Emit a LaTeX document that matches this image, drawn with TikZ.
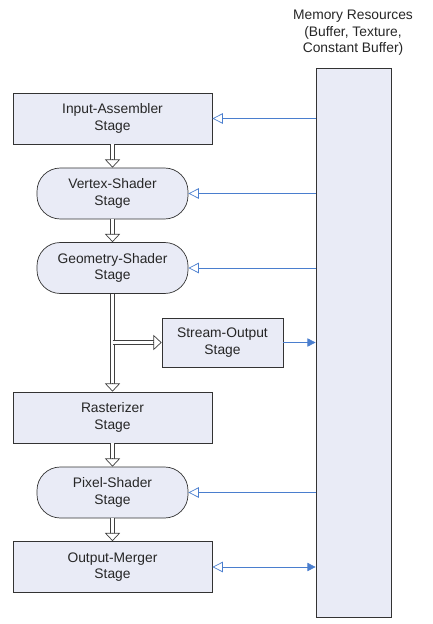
\documentclass[tikz,border=0pt]{standalone}
\usepackage{fontspec}
\setmainfont{Liberation Sans}
\usetikzlibrary{arrows.meta}
\definecolor{boxfill}{RGB}{233,235,246}
\definecolor{memblue}{RGB}{74,126,206}
\tikzset{
  stagebox/.style={draw=black!80, line width=0.6pt, fill=boxfill, align=center,
    text=black!85, minimum width=5.97cm, minimum height=1.53cm, inner sep=0pt},
  shaderbox/.style={stagebox, minimum width=4.53cm, rounded corners=0.7cm},
  flowshaft/.style={draw=black!75, line width=0.7pt, double=white, double distance=3.2pt, shorten >=6pt},
  flowtip/.style={draw=black!75, line width=0.6pt, -{Triangle[open, length=7pt, width=13pt, fill=white]}},
  memlink/.style={draw=memblue, line width=0.6pt},
  memopen/.style={memlink, -{Triangle[open, length=9pt, width=9pt]}},
  memfull/.style={memlink, -{Triangle[length=7pt, width=7pt]}},
}
\begin{document}
\begin{tikzpicture}[x=0.03cm, y=-0.03cm, font=\fontsize{11.8}{14}\selectfont]
		%%%%% START %%%%%
		\useasboundingbox (0, 0) rectangle (433, 624);
		
		\node[stagebox, minimum width=2.25cm, minimum height=16.47cm] (mem) at (353.5, 342.5) {};
		\node[align=center, text=black!85] (memlabel) at (353, 33) {Memory Resources\\(Buffer, Texture,\\Constant Buffer)};
		
		\node[stagebox] (ia) at (112.5, 118.5) {Input-Assembler\\Stage};
		\node[shaderbox] (vs) at (112.5, 193.5) {Vertex-Shader\\Stage};
		\node[shaderbox] (gs) at (112.5, 268) {Geometry-Shader\\Stage};
		\node[stagebox, minimum width=3.63cm, minimum height=1.47cm] (so) at (222.5, 342.5) {Stream-Output\\Stage};
		\node[stagebox] (rs) at (112.5, 417.5) {Rasterizer\\Stage};
		\node[shaderbox] (ps) at (112.5, 492.5) {Pixel-Shader\\Stage};
		\node[stagebox] (om) at (112.5, 567) {Output-Merger\\Stage};
		
		\coordinate (split) at (gs.south |- so.west);
		
		% wide hollow arrows down the pipeline
		\draw[flowshaft] (ia.south) -- (vs.north);
		\draw[flowtip] ([yshift=7pt]vs.north) -- (vs.north);
		\draw[flowshaft] (vs.south) -- (gs.north);
		\draw[flowtip] ([yshift=7pt]gs.north) -- (gs.north);
		\draw[flowshaft] (gs.south) -- (rs.north);
		\draw[flowtip] ([yshift=7pt]rs.north) -- (rs.north);
		\draw[flowshaft] (split) -- (so.west);
		\draw[flowtip] ([xshift=-7pt]so.west) -- (so.west);
		\draw[flowshaft] (rs.south) -- (ps.north);
		\draw[flowtip] ([yshift=7pt]ps.north) -- (ps.north);
		\draw[flowshaft] (ps.south) -- (om.north);
		\draw[flowtip] ([yshift=7pt]om.north) -- (om.north);
		
		% memory links
		\draw[memopen] (mem.west |- ia.east) -- (ia.east);
		\draw[memopen] (mem.west |- vs.east) -- (vs.east);
		\draw[memopen] (mem.west |- gs.east) -- (gs.east);
		\draw[memfull] (so.east) -- (so.east -| mem.west);
		\draw[memopen] (mem.west |- ps.east) -- (ps.east);
		\draw[memlink, {Triangle[open, length=9pt, width=9pt]}-{Triangle[length=7pt, width=7pt]}] (om.east) -- (om.east -| mem.west);
		%%%%% END %%%%%
\end{tikzpicture}
\end{document}
